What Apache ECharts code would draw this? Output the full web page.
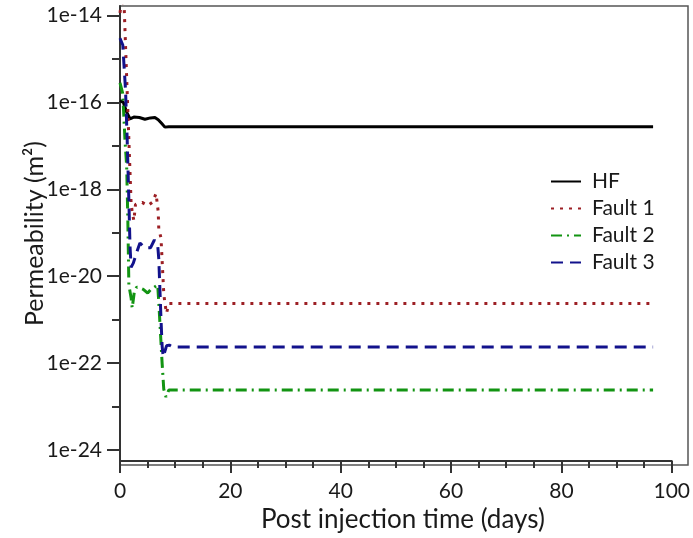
<!DOCTYPE html>
<html>
<head>
<meta charset="utf-8">
<script src="https://cdn.jsdelivr.net/npm/echarts@6/dist/echarts.min.js"></script>
<style>
  html, body { margin: 0; padding: 0; background: #fff; }
  #chart { width: 693px; height: 538px; }
</style>
</head>
<body>
<div id="chart"></div>
<script>
// time after injection (days) and permeability (m^2)
var hfDays = [0, 0.6, 1.2, 1.8, 2.5, 3.5, 4.5, 5.5, 6.3, 6.9, 7.5, 8.1, 8.8, 96.2];
var hfPerm = [1.1e-16, 1.0e-16, 6e-17, 4.2e-17, 4.6e-17, 4.5e-17, 4.1e-17, 4.4e-17, 4.5e-17, 4.0e-17, 3.3e-17, 2.7e-17, 2.75e-17, 2.75e-17];

var f1Days = [0, 0.35, 0.75, 2.0, 2.2, 2.5, 2.8, 3.1, 4.0, 5.0, 5.9, 6.5, 6.7, 6.9, 7.0, 7.4, 7.6, 7.9, 8.1, 8.4, 8.8, 96.2];
var f1Perm = [1.15e-14, 2.5e-14, 1.6e-14, 5e-19, 3e-19, 1.9e-19, 4.5e-19, 5e-19, 5e-19, 4.2e-19, 5.1e-19, 8e-19, 5e-19, 3e-19, 1.2e-19, 7.6e-20, 2.3e-20, 4e-21, 2.4e-21, 1.4e-21, 2.35e-21, 2.35e-21];

var f2Days = [0, 0.5, 0.9, 1.2, 1.4, 1.6, 2.0, 2.2, 2.6, 3.0, 3.6, 4.2, 5.0, 5.6, 6.2, 6.8, 7.0, 7.3, 7.6, 7.9, 8.3, 8.8, 96.2];
var f2Perm = [2.8e-16, 1.6e-16, 1.35e-17, 3.5e-18, 2.5e-19, 6.3e-21, 3.2e-21, 1.86e-21, 4.5e-21, 5.6e-21, 5.4e-21, 5.0e-21, 4.1e-21, 5e-21, 5.6e-21, 6.3e-21, 2.5e-21, 5e-22, 1e-22, 2.5e-23, 1.66e-23, 2.4e-23, 2.4e-23];

var f3Days = [0, 0.5, 1.0, 1.3, 1.6, 1.8, 2.0, 2.4, 3.0, 3.6, 4.5, 5.5, 6.2, 6.8, 7.0, 7.2, 7.4, 7.6, 7.8, 8.4, 8.9, 9.5, 96.2];
var f3Perm = [3.0e-15, 2.1e-15, 1.9e-16, 1.35e-17, 5.6e-19, 5.2e-20, 1.6e-20, 2.0e-20, 3.5e-20, 5.8e-20, 4.5e-20, 4.5e-20, 6.8e-20, 5.2e-20, 2.5e-20, 5e-21, 1e-21, 2.5e-22, 1.4e-22, 2.5e-22, 2.6e-22, 2.35e-22, 2.35e-22];

var seriesNames = ['HF', 'Fault 1', 'Fault 2', 'Fault 3'];

// y tick labels, one per labelled decade
var yTickLabels = { '-24': '1e-24', '-22': '1e-22', '-20': '1e-20', '-18': '1e-18', '-16': '1e-16', '-14': '1e-14' };

function pts(days, vals) {
  return days.map(function (d, i) { return [d, vals[i]]; });
}

var FONT = 'Lato';
var INK = '#1a1a1a';
var AXIS = '#333';

var chart = echarts.init(document.getElementById('chart'), null, { renderer: 'canvas' });

var option = {
  animation: false,
  backgroundColor: '#fff',
  textStyle: { fontFamily: FONT },
  grid: [
    // data area + frame
    { left: 120, top: 6, width: 568, height: 459, show: true, borderColor: '#555', borderWidth: 1.5 },
    // visible time axis (0-100)
    { left: 120, top: 6, width: 554.15, height: 459 },
    // visible decade axis (1e-24 .. 1e-14)
    { left: 120, top: 15.5, width: 554.15, height: 434.5 }
  ],
  legend: {
    data: seriesNames,
    orient: 'vertical',
    left: 545,
    top: 166,
    itemWidth: 30,
    itemHeight: 14,
    itemGap: 6,
    itemStyle: { opacity: 0 },
    textStyle: { fontFamily: FONT, fontSize: 21, color: INK, padding: [0, 0, 0, 6] }
  },
  xAxis: [
    { gridIndex: 0, type: 'value', min: 0, max: 102.5, show: false },
    {
      gridIndex: 1, type: 'value', min: 0, max: 100, interval: 20,
      axisLine: { onZero: false, lineStyle: { color: AXIS, width: 2 } },
      axisTick: { length: 12, lineStyle: { color: AXIS, width: 2 } },
      minorTick: { show: true, splitNumber: 4, length: 7, lineStyle: { color: AXIS, width: 2 } },
      splitLine: { show: false },
      axisLabel: { fontFamily: FONT, fontSize: 21, color: INK, margin: 20 },
      name: 'Post injection time (days)',
      nameLocation: 'middle',
      nameGap: 43,
      nameTextStyle: { fontFamily: FONT, fontSize: 26, color: INK, padding: [0, 0, 0, 14] }
    },
    { gridIndex: 2, type: 'value', show: false }
  ],
  yAxis: [
    { gridIndex: 0, type: 'log', logBase: 10, min: Math.pow(10, -24.345), max: Math.pow(10, -13.781), show: false },
    {
      gridIndex: 1, type: 'value',
      axisLine: { show: true, onZero: false, lineStyle: { color: AXIS, width: 2 } },
      axisTick: { show: false },
      axisLabel: { show: false },
      splitLine: { show: false },
      name: 'Permeability (m²)',
      nameLocation: 'middle',
      nameGap: 73,
      nameTextStyle: { fontFamily: FONT, fontSize: 25, color: INK, padding: [0, 0, 0, 0] }
    },
    {
      gridIndex: 2, type: 'value', min: -24, max: -14, interval: 2,
      axisLine: { show: false, onZero: false },
      axisTick: { length: 13, lineStyle: { color: AXIS, width: 2 } },
      minorTick: { show: true, splitNumber: 2, length: 8, lineStyle: { color: AXIS, width: 2 } },
      splitLine: { show: false },
      axisLabel: {
        fontFamily: FONT, fontSize: 21, color: INK, margin: 18,
        formatter: function (v) { return yTickLabels[String(v)] || ''; }
      }
    }
  ],
  series: [
    {
      name: 'HF', type: 'line', xAxisIndex: 0, yAxisIndex: 0,
      data: pts(hfDays, hfPerm), symbol: 'none', color: '#000',
      lineStyle: { color: '#000', width: 3 }
    },
    {
      name: 'Fault 1', type: 'line', xAxisIndex: 0, yAxisIndex: 0,
      data: pts(f1Days, f1Perm), symbol: 'none', color: '#9c1f24',
      lineStyle: { color: '#9c1f24', width: 3, type: [3, 6] }
    },
    {
      name: 'Fault 2', type: 'line', xAxisIndex: 0, yAxisIndex: 0,
      data: pts(f2Days, f2Perm), symbol: 'none', color: '#129412',
      lineStyle: { color: '#129412', width: 3, type: [11, 5, 2, 5] }
    },
    {
      name: 'Fault 3', type: 'line', xAxisIndex: 0, yAxisIndex: 0,
      data: pts(f3Days, f3Perm), symbol: 'none', color: '#12128c',
      lineStyle: { color: '#12128c', width: 3, type: [12, 7] }
    }
  ]
};

chart.setOption(option);
</script>
</body>
</html>
